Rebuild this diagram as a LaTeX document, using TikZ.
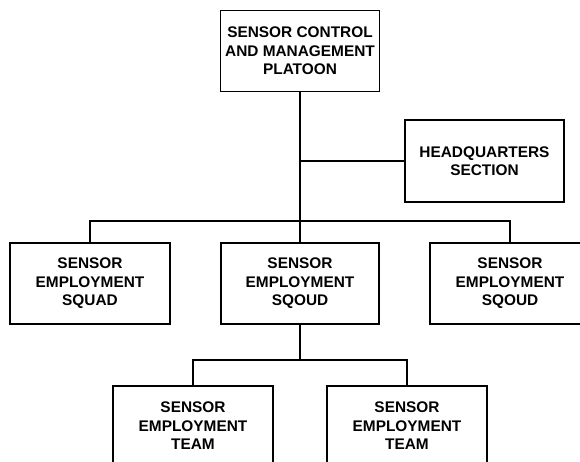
\documentclass[tikz,border=0pt]{standalone}
\usepackage{fontspec}
\setmainfont{Liberation Sans}
\begin{document}
\begin{tikzpicture}[x=1pt,y=-1pt,
  orgbox/.style={draw=black,line width=1.4pt,rectangle,inner sep=0pt,
    minimum width=159pt,minimum height=81pt,align=center,
    font=\fontsize{15.4}{18.5}\selectfont\bfseries},
  conn/.style={draw=black,line width=1.4pt}]
\useasboundingbox (0,0) rectangle (580,462);
\node[orgbox] (top) at (300,51) {SENSOR CONTROL\\AND MANAGEMENT\\PLATOON};
\node[orgbox,minimum height=82pt] (hq) at (484.5,161) {HEADQUARTERS\\SECTION};
\node[orgbox,minimum width=160pt] (left) at (90,283.5) {SENSOR\\EMPLOYMENT\\SQUAD};
\node[orgbox,minimum width=158pt] (mid) at (300,283.5) {SENSOR\\EMPLOYMENT\\SQOUD};
\node[orgbox,minimum width=160pt] (right) at (510,283.5) {SENSOR\\EMPLOYMENT\\SQOUD};
\node[orgbox,minimum width=160pt,minimum height=80pt] (tl) at (193,426) {SENSOR\\EMPLOYMENT\\TEAM};
\node[orgbox,minimum width=160pt,minimum height=80pt] (tr) at (407,426) {SENSOR\\EMPLOYMENT\\TEAM};
\coordinate (bus) at (300,221);
\coordinate (tbus) at (300,360);
\draw[conn] (top.south) -- (mid.north);
\draw[conn] (top.south |- hq.west) -- (hq.west);
\draw[conn] (left.north) |- (bus) -| (right.north);
\draw[conn] (mid.south) -- (tbus);
\draw[conn] (tl.north) |- (tbus) -| (tr.north);
\end{tikzpicture}
\end{document}
